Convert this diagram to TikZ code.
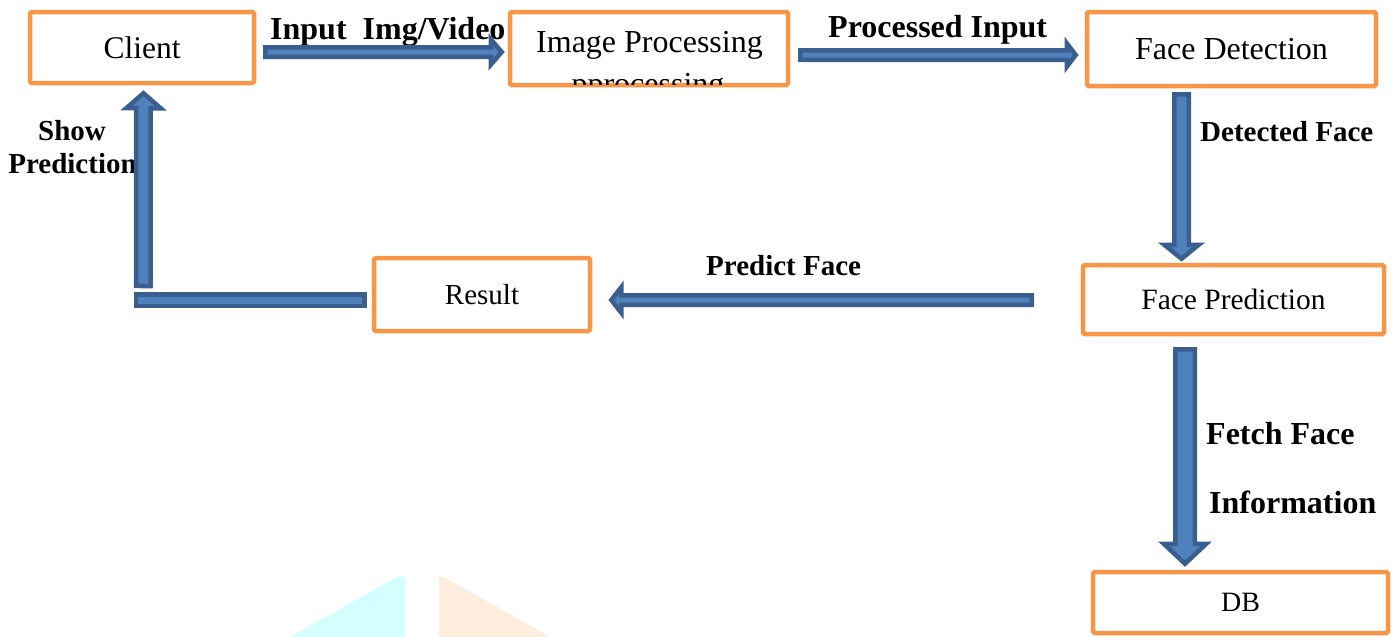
\documentclass[tikz,border=0pt]{standalone}
\usepackage{fontspec}
\setmainfont{Liberation Serif}
\usetikzlibrary{calc}
\definecolor{boxorange}{HTML}{F79646}
\definecolor{arrowfill}{HTML}{4F81BD}
\definecolor{arrowline}{HTML}{3A5F8F}
\definecolor{wmcyan}{HTML}{D4FFFF}
\definecolor{wmorange}{HTML}{FFEEDD}
% #1 from, #2 to, #3 shaft half width, #4 head half width, #5 head length
\newcommand\blockarrow[5]{%
  \coordinate (ba-neck) at ($(#2)!#5!(#1)$);
  \draw[barrow] ($(#1)!#3!90:(#2)$) -- ($(ba-neck)!#3!-90:(#1)$) -- ($(ba-neck)!#4!-90:(#1)$) -- (#2)
    -- ($(ba-neck)!#4!90:(#1)$) -- ($(ba-neck)!#3!90:(#1)$) -- ($(#1)!#3!-90:(#2)$) -- cycle;}
\begin{document}
\begin{tikzpicture}[x=1pt,y=-1pt,
  box/.style={draw=boxorange, line width=4.5pt, rounded corners=1.5pt, inner sep=0pt, fill=white},
  barrow/.style={draw=arrowline, fill=arrowfill, line width=4.5pt, line join=miter},
  lbl/.style={font=\bfseries\fontsize{32}{38}\selectfont, inner sep=0pt},
  lbls/.style={font=\bfseries\fontsize{29}{34}\selectfont, inner sep=0pt}]
\useasboundingbox (0,0) rectangle (1395,637);
% watermark
\fill[wmcyan] (294,637) -- (294,635) -- (397,577) -- (405,577) -- (405,637) -- cycle;
\fill[wmorange] (439,637) -- (439,577) -- (444,577) -- (547,635) -- (547,637) -- cycle;
% boxes
\node[box, minimum width=224pt, minimum height=71pt, font=\fontsize{31.5}{38}\selectfont] (client) at (142,47.5) {Client};
\node[box, minimum width=278pt, minimum height=73pt] (img) at (649,48.5) {};
\begin{scope}
  \clip ($(img.south west)+(2.5,-2.5)$) rectangle ($(img.north east)+(-2.5,2.5)$);
  \node[anchor=base, inner sep=0pt, font=\fontsize{32}{38}\selectfont] (imgt) at (649.5,52) {Image Processing};
  \node[anchor=base, inner sep=0pt, font=\fontsize{32}{38}\selectfont] (imgt2) at (648,94) {pprocessing};
\end{scope}
\node[box, minimum width=289pt, minimum height=74pt, font=\fontsize{32}{38}\selectfont] (facedet) at (1231.5,49) {Face Detection};
\node[box, minimum width=301pt, minimum height=69pt, font=\fontsize{29.5}{36}\selectfont] (facepred) at (1233.5,299.5) {Face Prediction};
\node[box, minimum width=216pt, minimum height=73pt, font=\fontsize{29}{36}\selectfont] (result) at (482,294.5) {Result};
\node[box, minimum width=295pt, minimum height=61pt, font=\fontsize{28}{34}\selectfont] (db) at (1240.5,602.5) {DB};
% labels
\node[lbl, anchor=base west] (l1) at (270,39) {Input~~Img/Video};
\node[lbl, anchor=base west] (l2) at (828,37) {Processed Input};
\node[lbls, anchor=base west] (l3) at (1200,141) {Detected Face};
\node[lbls, anchor=base west] (l4) at (706,275) {Predict Face};
\node[lbls, anchor=base] (l5) at (72,140) {Show};
\node[lbls, anchor=base] (l6) at (72.5,173) {Prediction};
\node[lbl, anchor=base west] (l7) at (1206,444) {Fetch Face};
\node[lbl, anchor=base west] (l8) at (1209,513) {Information};
% arrows
\coordinate (a1s) at ($(client.east)+(9,4.5)$);
\coordinate (a1e) at ($(img.west)+(-6,3.5)$);
\blockarrow{a1s}{a1e}{4.75pt}{12.75pt}{11pt}
\coordinate (a2s) at ($(img.east)+(10,6.5)$);
\coordinate (a2e) at ($(facedet.west)+(-9,6)$);
\blockarrow{a2s}{a2e}{4.75pt}{11.75pt}{9pt}
\coordinate (a3s) at ($(facedet.south)+(-50,6)$);
\coordinate (a3e) at ($(facepred.north)+(-52,-4)$);
\blockarrow{a3s}{a3e}{7.25pt}{17.25pt}{14pt}
\coordinate (a4s) at ($(facepred.south)+(-48.5,13)$);
\coordinate (a4e) at ($(db.north)+(-55.5,-6)$);
\blockarrow{a4s}{a4e}{9.75pt}{21.25pt}{20pt}
\coordinate (a5s) at ($(facepred.west)+(-49,0.5)$);
\coordinate (a5e) at ($(result.east)+(19,5.5)$);
\blockarrow{a5s}{a5e}{4.75pt}{12.75pt}{10pt}
% elbow result -> client
\draw[barrow] ($(result.west)+(-7.25,-0.25)$) rectangle ($(result.west)+(-235.75,11.25)$);
\coordinate (a6s) at ($(result.west)+(-228.5,-8.5)$);
\coordinate (a6e) at ($(client.south)+(1.5,8)$);
\blockarrow{a6s}{a6e}{7.25pt}{17.25pt}{15pt}
\end{tikzpicture}
\end{document}
